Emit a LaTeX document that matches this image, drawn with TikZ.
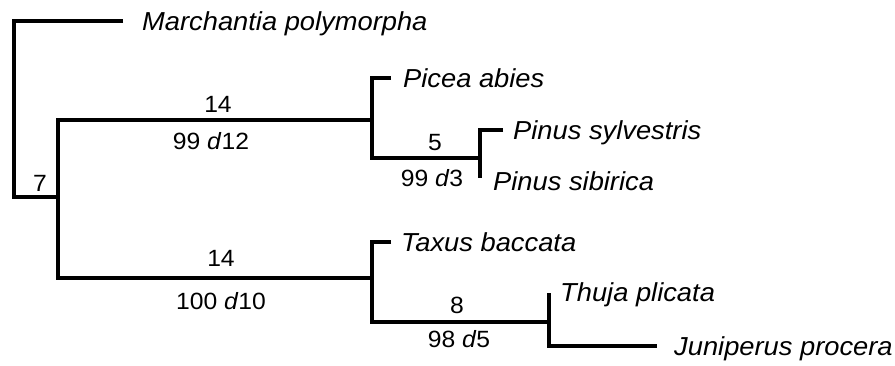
\documentclass[tikz,border=0pt]{standalone}
\usepackage{fontspec}
\setmainfont{Liberation Sans}[FakeStretch=1.05]
\begin{document}
\begin{tikzpicture}[x=1pt,y=-1pt,
  branch/.style={line width=3.6pt,line join=miter},
  taxon/.style={anchor=base west,inner sep=0pt,font=\fontsize{26}{29}\selectfont\itshape},
  lab/.style={inner sep=0pt,font=\fontsize{23.5}{26}\selectfont}]
\useasboundingbox (0,0) rectangle (895,365);
% tree nodes
\coordinate (mar) at (123,21);
\coordinate (root) at (14,197);
\coordinate (seed) at (58,197);
\coordinate (pin) at (372,120);
\coordinate (tax) at (372,278);
\coordinate (pinus) at (480,158);
\coordinate (cup) at (549,322);
% leaf ends
\coordinate (picea) at (391,78);
\coordinate (sylv) at (503,130);
\coordinate (sib) at (480,178);
\coordinate (taxus) at (391,242);
\coordinate (thuja) at (549,293);
\coordinate (juni) at (657,346);
% branches
\draw[branch] (mar) -| (root) -- (seed);
\draw[branch] (pin) -| (seed) |- (tax);
\draw[branch] (picea) -| (pin) |- (pinus);
\draw[branch] (sylv) -| (pinus) -- (sib);
\draw[branch] (taxus) -| (tax) |- (cup);
\draw[branch] (thuja) |- (juni);
% taxa
\node[taxon] (tmar) at (142,30) {Marchantia polymorpha};
\node[taxon] (tpic) at (403,87) {Picea abies};
\node[taxon] (tsyl) at (513,139) {Pinus sylvestris};
\node[taxon] (tsib) at (493,190) {Pinus sibirica};
\node[taxon] (ttax) at (401,251) {Taxus baccata};
\node[taxon] (tthu) at (560,301) {Thuja plicata};
\node[taxon] (tjun) at (674,355) {Juniperus procera};
% branch labels
\node[lab] (l7) at (40,183) {7};
\node[lab] (l14a) at (218,104) {14};
\node[lab] (b14a) at (211,141) {99 \textit{d}12};
\node[lab] (l5) at (435,143) {5};
\node[lab] (b5) at (432,178) {99 \textit{d}3};
\node[lab] (l14b) at (221,258) {14};
\node[lab] (b14b) at (221,301) {100 \textit{d}10};
\node[lab] (l8) at (457,305) {8};
\node[lab] (b8) at (459,339) {98 \textit{d}5};
\end{tikzpicture}
\end{document}
